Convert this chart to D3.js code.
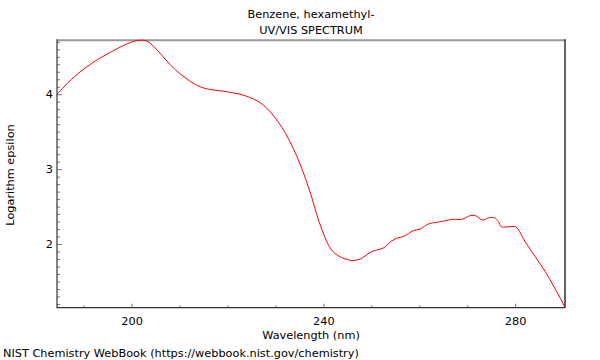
<!DOCTYPE html>
<html><head><meta charset="utf-8">
<script src="https://cdn.jsdelivr.net/npm/d3@7"></script>
<style>body{margin:0;background:#fff}svg{display:block}text{font-family:"DejaVu Sans",sans-serif;font-size:11.3px;fill:#000}</style>
</head><body>
<svg id="c" width="600" height="360"></svg>
<script>
const wavelength = [184.45,187.5,190.3,193.1,195.9,198.6,200.7,201.8,203.2,204.9,207.0,209.1,211.2,213.3,215.5,220.2,223.7,227.2,230.6,233.4,235.5,237.3,239.0,240.4,241.4,242.5,244.6,246.3,247.7,248.7,250.1,252.6,254.0,255.4,256.7,258.8,260.2,262.0,263.7,266.1,267.2,268.9,270.7,271.7,273.2,274.5,275.7,276.5,277.1,278.3,280.1,280.6,282.1,284.2,286.3,288.1,289.8,290.4];
const logEps = [4.00,4.20,4.35,4.47,4.57,4.66,4.71,4.72,4.71,4.62,4.47,4.33,4.22,4.13,4.075,4.03,3.98,3.87,3.63,3.32,3.01,2.68,2.32,2.08,1.95,1.87,1.80,1.78,1.80,1.84,1.90,1.95,2.03,2.08,2.10,2.18,2.20,2.27,2.29,2.32,2.33,2.33,2.38,2.38,2.32,2.35,2.35,2.30,2.23,2.23,2.23,2.20,2.03,1.83,1.63,1.43,1.23,1.15];
const xMajor = [200,240,280];
const xMinor = [190,210,220,230,250,260,270];
const yMajor = [2,3,4];
const yMinor = d3.range(12,48).map(d=>d/10).filter(d=>!yMajor.includes(d));
const titleLines = ["Benzene, hexamethyl-","UV/VIS SPECTRUM"];
const xLabel = "Wavelength (nm)", yLabel = "Logarithm epsilon";
const footer = "NIST Chemistry WebBook (https://webbook.nist.gov/chemistry)";

const L=57,R=565,T=40.3,B=307.7;
const x = d3.scaleLinear().domain([184.45,290.4]).range([L,R]);
const y = d3.scaleLinear().domain([1.15,4.72]).range([B,T]);
const svg = d3.select("#c");

// frame
svg.append("line").attr("x1",L).attr("x2",R+1).attr("y1",T).attr("y2",T).attr("stroke","#999").attr("stroke-width",2);
svg.append("line").attr("x1",R).attr("x2",R).attr("y1",T-1).attr("y2",B).attr("stroke","#333").attr("stroke-width",1.5);

// bottom axis
const gx = svg.append("g").attr("transform",`translate(0,${B})`);
gx.call(d3.axisBottom(x).tickValues(xMajor).tickSize(-4).tickFormat(d3.format("d")));
gx.call(g=>g.select(".domain").remove());
gx.selectAll(".tick line").attr("stroke","#777");
gx.selectAll(".tick text").attr("font-size",11.3).attr("font-family","DejaVu Sans").attr("dy","0.71em").attr("y",9.5);
const gx2 = svg.append("g").attr("transform",`translate(0,${B})`);
gx2.call(d3.axisBottom(x).tickValues(xMinor).tickSize(-2.5).tickFormat(""));
gx2.call(g=>g.select(".domain").remove());
gx2.selectAll(".tick line").attr("stroke","#777");

// left axis
const gy = svg.append("g").attr("transform",`translate(${L},0)`);
gy.call(d3.axisLeft(y).tickValues(yMajor).tickSize(-5).tickFormat(d3.format("d")));
gy.call(g=>g.select(".domain").remove());
gy.selectAll(".tick line").attr("stroke","#777");
gy.selectAll(".tick text").attr("font-size",11.3).attr("font-family","DejaVu Sans").attr("x",-4);
const gy2 = svg.append("g").attr("transform",`translate(${L},0)`);
gy2.call(d3.axisLeft(y).tickValues(yMinor).tickSize(-3).tickFormat(""));
gy2.call(g=>g.select(".domain").remove());
gy2.selectAll(".tick line").attr("stroke","#777");

svg.append("line").attr("x1",L).attr("x2",L).attr("y1",T-1).attr("y2",B+0.5).attr("stroke","#333").attr("stroke-width",1.2);
svg.append("line").attr("x1",L).attr("x2",R).attr("y1",B).attr("y2",B).attr("stroke","#333").attr("stroke-width",1.2);

// curve
const pts = wavelength.map((w,i)=>[w,logEps[i]]);
svg.append("path").datum(pts)
  .attr("d",d3.line().x(d=>x(d[0])).y(d=>y(d[1])).curve(d3.curveCatmullRom.alpha(0.5)))
  .attr("fill","none").attr("stroke","#ff0000").attr("stroke-width",1);

// texts
const cx=(L+R)/2;
svg.append("text").attr("x",cx).attr("y",18).attr("text-anchor","middle").text(titleLines[0]);
svg.append("text").attr("x",cx).attr("y",34).attr("text-anchor","middle").text(titleLines[1]);
svg.append("text").attr("x",cx).attr("y",338.5).attr("text-anchor","middle").text(xLabel);
svg.append("text").attr("transform","translate(14,175) rotate(-90)").attr("text-anchor","middle").text(yLabel);
svg.append("text").attr("x",3).attr("y",356.5).text(footer);
</script>
</body></html>
